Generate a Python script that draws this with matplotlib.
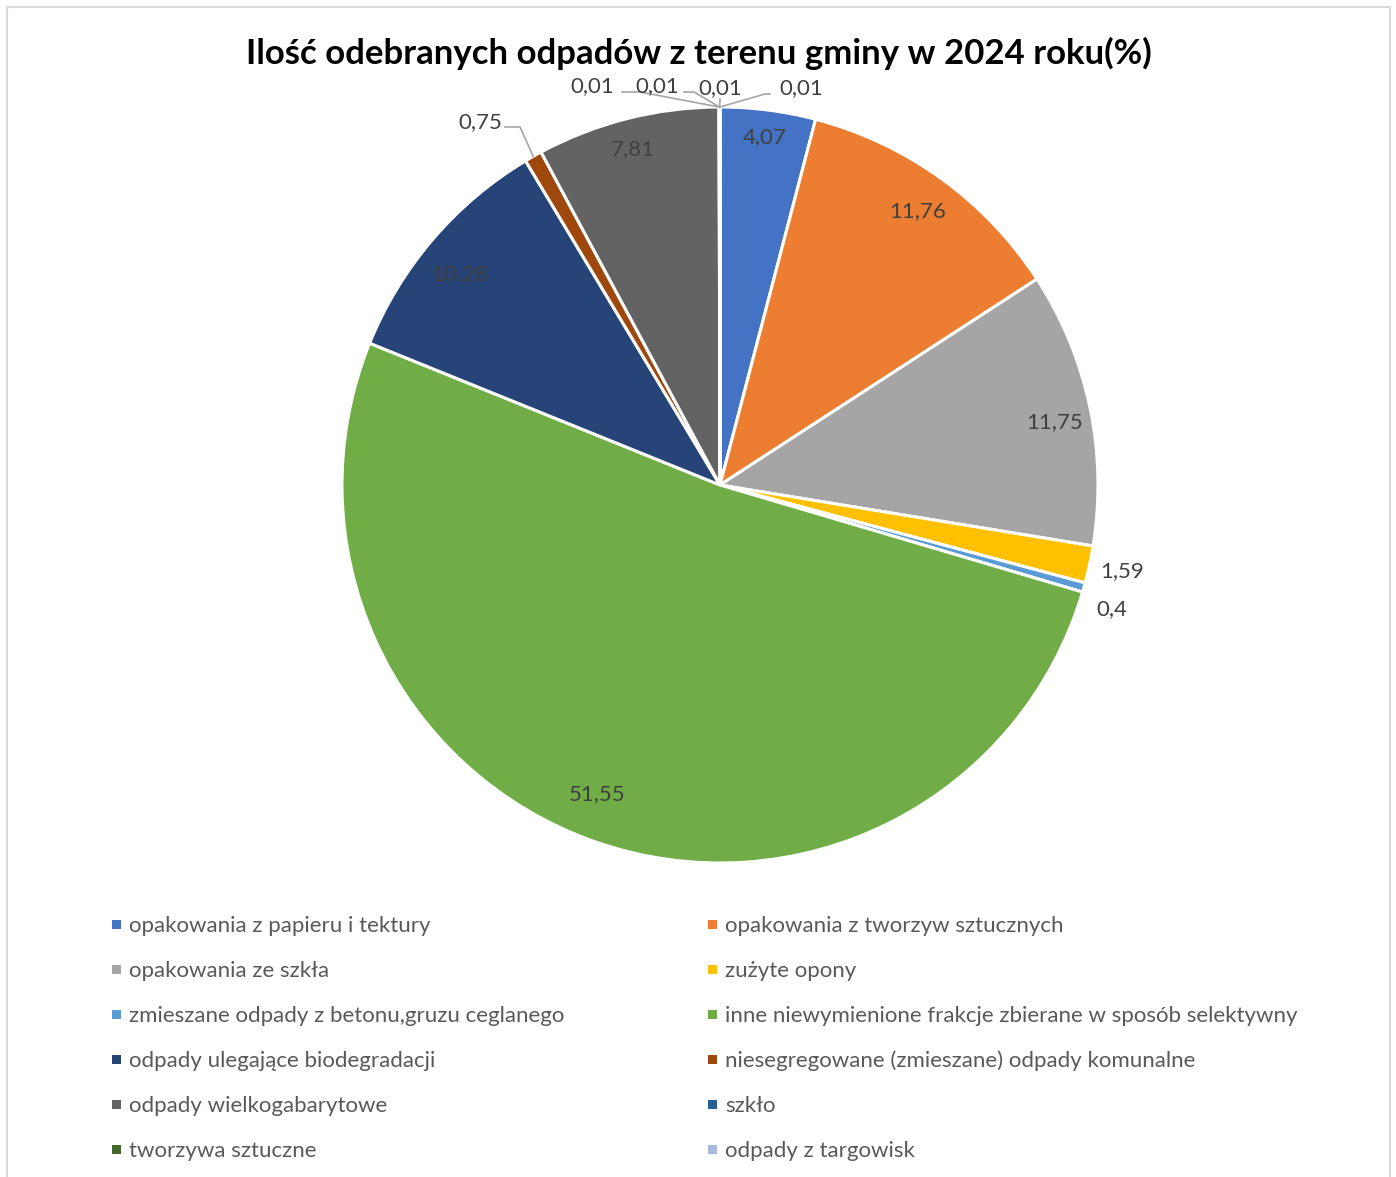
import numpy as np
import matplotlib
matplotlib.use("Agg")
import matplotlib.pyplot as plt
from matplotlib.patches import Rectangle

plt.rcParams['font.family'] = ['Lato', 'DejaVu Sans']

title = "Ilość odebranych odpadów z terenu gminy w 2024 roku(%)"
categories = [
    "opakowania z papieru i tektury",
    "opakowania z tworzyw sztucznych",
    "opakowania ze szkła",
    "zużyte opony",
    "zmieszane odpady z betonu,gruzu ceglanego",
    "inne niewymienione frakcje zbierane w sposób selektywny",
    "odpady ulegające biodegradacji",
    "niesegregowane (zmieszane) odpady komunalne",
    "odpady wielkogabarytowe",
    "szkło",
    "tworzywa sztuczne",
    "odpady z targowisk",
    "pozostałe",
]
values = [4.07, 11.76, 11.75, 1.59, 0.4, 51.55, 10.28, 0.75, 7.81, 0.01, 0.01, 0.01, 0.01]
labels = ["4,07", "11,76", "11,75", "1,59", "0,4", "51,55", "10,28", "0,75", "7,81",
          "0,01", "0,01", "0,01", "0,01"]
colors = ["#4472C4", "#ED7D31", "#A5A5A5", "#FFC000", "#5B9BD5", "#70AD47",
          "#264478", "#9E480E", "#636363", "#255E91", "#43682B", "#A9B8DE", "#F1975A"]
legend_shown = 12  # the legend in the source shows only the first 12 entries

W, H = 1396, 1177
cx, cy, R = 720, 485, 378
fig = plt.figure(figsize=(W / 100, H / 100), dpi=100)
ax = fig.add_axes([0, 0, 1, 1])

def px(x, y):
    return (x - cx) / R, (cy - y) / R

wedges, _ = ax.pie(values, colors=colors, startangle=90, counterclock=False,
                   radius=1.0, center=(0, 0), frame=False,
                   wedgeprops=dict(edgecolor='white', linewidth=2.2))
ax.set_xlim(-cx / R, (W - cx) / R)
ax.set_ylim(-(H - cy) / R, cy / R)
ax.set_aspect('auto')
ax.axis('off')

vals = np.array(values)
cum = np.cumsum(vals) - vals
mid_deg = 90 - 360 * (cum + vals / 2) / vals.sum()

tc = "#404040"
fs = 16
# inside labels: radius fraction, angle tweak (deg)
inside = {0: (0.928, 0), 1: (0.895, 0), 2: (0.902, -1.2), 5: (0.879, -2.5),
          6: (0.888, 1.5), 8: (0.918, 0.3)}
for i, (r, da) in inside.items():
    a = np.deg2rad(mid_deg[i] + da)
    ax.text(r * np.cos(a), r * np.sin(a), labels[i], ha='center', va='center',
            fontsize=fs, color=tc)
# outside labels without leader
outside = {3: (1.088, 0), 4: (1.086, -1.8)}
for i, (r, da) in outside.items():
    a = np.deg2rad(mid_deg[i] + da)
    ax.text(r * np.cos(a), r * np.sin(a), labels[i], ha='center', va='center',
            fontsize=fs, color=tc)

# leader-line labels
leader = {7: (480, 122), 9: (592, 86), 10: (657, 86), 11: (720, 88), 12: (801, 88)}
elbows = {7: ((505, 127), (520, 127)), 9: ((622, 92), (640, 92)),
          10: ((684, 92), (694, 92)), 11: ((720, 99), (720, 99)),
          12: ((770, 94), (765, 94))}
lc = "#A6A6A6"
for i, (lx, ly) in leader.items():
    tx, ty = px(lx, ly)
    ax.text(tx, ty, labels[i], ha='center', va='center', fontsize=fs, color=tc)
    a = np.deg2rad(mid_deg[i])
    ex, ey = np.cos(a), np.sin(a)
    p1 = px(*elbows[i][0]); p2 = px(*elbows[i][1])
    ax.plot([p1[0], p2[0], ex], [p1[1], p2[1], ey], color=lc, lw=1.2,
            solid_joinstyle='miter')

# title
fig.text(699 / W, 1 - 53 / H, title, ha='center', va='center', fontsize=25,
         fontweight='bold', color='black')

# legend (two columns, row-wise)
x_cols = [117, 713]
y0, dy = 926, 45
for k, (name, col) in enumerate(zip(categories[:legend_shown], colors[:legend_shown])):
    row, c = divmod(k, 2)
    xm, yc = x_cols[c], y0 + row * dy
    fig.patches.append(Rectangle(((xm - 5) / W, 1 - (yc + 3) / H), 9 / W, 9 / H,
                                 transform=fig.transFigure, facecolor=col,
                                 edgecolor='none'))
    fig.text((xm + 12) / W, 1 - yc / H, name, ha='left', va='center', fontsize=16,
             color="#595959")

# chart frame
fig.patches.append(Rectangle((7 / W, -0.05), (1390 - 7) / W, 1.05 - 7 / H,
                             transform=fig.transFigure, facecolor='none',
                             edgecolor='#D9D9D9', linewidth=1.5))

fig.savefig("out.png", dpi=100)
